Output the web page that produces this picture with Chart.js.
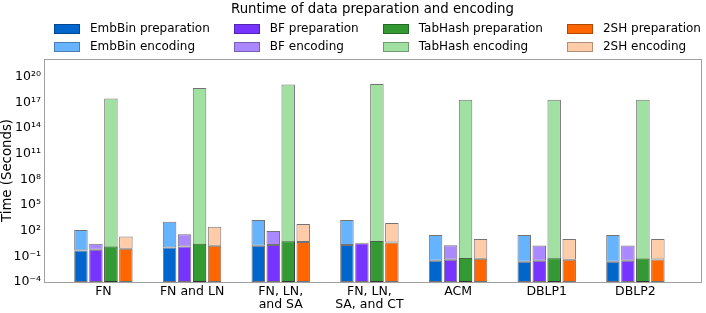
<!DOCTYPE html>
<html>
<head>
<meta charset="utf-8">
<script src="https://cdn.jsdelivr.net/npm/chart.js@4.4.0/dist/chart.umd.min.js"></script>
<style>
    body { margin: 0; background: #fff; font-family: "DejaVu Sans", sans-serif; }
    #wrap { position: relative; width: 706px; height: 313px; }
    #legend { position: absolute; left: 44px; width: 657px; top: 0; color: #000; }
    #legend .title { text-align: center; font-size: 13.3px; line-height: 18px; }
    #legend .grid { display: grid; grid-template-columns: repeat(4, auto); column-gap: 24px; row-gap: 3px;
        justify-content: center; margin-top: 3px; font-size: 12px; transform: translateX(5px); }
    #legend .item { display: flex; align-items: center; white-space: nowrap; line-height: 15px; }
    #legend .box { width: 24px; height: 8px; border: 1px solid rgba(0,0,0,0.3); margin-right: 10px; }
</style>
</head>
<body>
<div id="wrap">
    <canvas id="runtime" width="706" height="313"></canvas>
    <div id="legend"></div>
</div>
<script>
const categories = ['FN', 'FN and LN', ['FN, LN,', 'and SA'], ['FN, LN,', 'SA, and CT'], 'ACM', 'DBLP1', 'DBLP2'];
const methods = ['EmbBin', 'BF', 'TabHash', '2SH'];

// seconds
const embbinPrep = [0.5, 1.1, 1.8, 2.2, 0.03, 0.023, 0.023];
const embbinEnc = [119, 1150, 1800, 1800, 32, 32, 32];
const bfPrep = [0.6, 1.4, 2.2, 3.4, 0.039, 0.03, 0.03];
const bfEnc = [2.3, 36.6, 92, 0.4, 1.96, 1.87, 1.87];
const tabhashPrep = [1.4, 2.9, 5.8, 6.4, 0.066, 0.06, 0.058];
const tabhashEnc = [3e17, 5e18, 1.3e19, 1.5e19, 2.1e17, 2.1e17, 2.1e17];
const twoshPrep = [0.8, 1.7, 4.9, 4.1, 0.051, 0.039, 0.042];
const twoshEnc = [21, 298, 615, 806, 11, 11, 11];

const yTickExps = [-4, -1, 2, 5, 8, 11, 14, 17, 20];

const prepData = [embbinPrep, bfPrep, tabhashPrep, twoshPrep];
const encData = [embbinEnc, bfEnc, tabhashEnc, twoshEnc];
const prepColors = ['#0066cc', '#7733ff', '#339933', '#ff6600'];
const encColors = ['#66b3ff', '#aa88ff', '#a0e0a0', '#ffccaa'];

const sup = {'-': '⁻', '0': '⁰', '1': '¹', '2': '²', '3': '³', '4': '⁴', '5': '⁵', '6': '⁶', '7': '⁷', '8': '⁸', '9': '⁹'};
const pow10 = (e) => '10' + String(e).split('').map(c => sup[c]).join('');

const toPoints = (arr) => arr.map((v, i) => ({x: i, y: v}));

const datasets = [];
methods.forEach((m, k) => {
    datasets.push({
        label: m + ' preparation',
        data: toPoints(prepData[k]),
        stack: m,
        backgroundColor: prepColors[k],
    });
    datasets.push({
        label: m + ' encoding',
        data: toPoints(encData[k]),
        stack: m,
        backgroundColor: encColors[k],
    });
});

// legend, matplotlib style: preparations on row one, encodings on row two
const buildLegend = () => {
    let html = '<div class="title">Runtime of data preparation and encoding</div><div class="grid">';
    methods.forEach((m, k) => {
        html += '<div class="item"><span class="box" style="background:' + prepColors[k] + '"></span>' + m + ' preparation</div>';
    });
    methods.forEach((m, k) => {
        html += '<div class="item"><span class="box" style="background:' + encColors[k] + '"></span>' + m + ' encoding</div>';
    });
    document.getElementById('legend').innerHTML = html + '</div>';
};

const frame = {
    id: 'frame',
    afterDraw(chart) {
        const {ctx, chartArea: a} = chart;
        ctx.save();
        ctx.strokeStyle = '#a0a0a0';
        ctx.lineWidth = 1;
        ctx.strokeRect(Math.round(a.left) + 0.5, Math.round(a.top) + 0.5, Math.round(a.right - a.left), Math.round(a.bottom - a.top));
        ctx.restore();
    }
};

const renderChart = () => {
    Chart.defaults.font.family = '"DejaVu Sans", sans-serif';
    Chart.defaults.color = '#000';

    new Chart('runtime', {
        type: 'bar',
        data: { datasets },
        options: {
            responsive: false,
            animation: false,
            categoryPercentage: 0.676,
            barPercentage: 0.9,
            borderColor: 'rgba(0,0,0,0.55)',
            borderWidth: 1,
            borderSkipped: false,
            layout: { padding: { top: 59, right: 5, left: 0, bottom: 0 } },
            plugins: {
                legend: { display: false },
                tooltip: { enabled: false }
            },
            scales: {
                x: {
                    type: 'linear',
                    offset: false,
                    min: -0.67,
                    max: 6.74,
                    grid: { display: false, drawTicks: false },
                    border: { display: false },
                    afterBuildTicks: (s) => { s.ticks = categories.map((c, i) => ({value: i})); },
                    afterFit: (s) => { s.height = 31; },
                    ticks: {
                        autoSkip: false,
                        maxRotation: 0,
                        padding: 3,
                        font: { size: 12.5, lineHeight: 1.05 },
                        callback: (v) => categories[v]
                    }
                },
                y: {
                    type: 'logarithmic',
                    stacked: true,
                    min: 1e-4,
                    max: Math.pow(10, 22.1),
                    grid: { display: false, drawTicks: false },
                    border: { display: false },
                    afterBuildTicks: (s) => { s.ticks = yTickExps.map(e => ({value: Math.pow(10, e)})); },
                    afterFit: (s) => { s.width = 44; },
                    ticks: {
                        padding: 3,
                        font: { size: 12.5 },
                        callback: (v) => pow10(Math.round(Math.log10(v)))
                    },
                    title: {
                        display: true,
                        text: 'Time (Seconds)',
                        font: { size: 13.3 },
                        padding: 0
                    }
                }
            }
        },
        plugins: [frame]
    });
};

buildLegend();
renderChart();
</script>
</body>
</html>
